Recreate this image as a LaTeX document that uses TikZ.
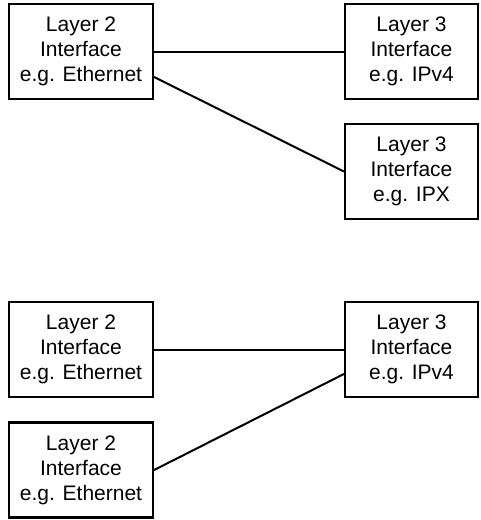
\documentclass[tikz,border=0pt]{standalone}
\usepackage{fontspec}
\setmainfont{Liberation Sans}
\begin{document}
\begin{tikzpicture}[x=1pt,y=1pt,
  ifbox/.style={draw=black, line width=2.2pt, rectangle, align=center, inner sep=0pt,
    font=\fontsize{21}{25}\selectfont},
  l2box/.style={ifbox, minimum width=144pt, minimum height=95pt},
  l3box/.style={ifbox, minimum width=133pt, minimum height=95pt},
  link/.style={line width=2pt}]
\useasboundingbox (0,0) rectangle (481,-520);
\node[l2box] (b1) at (81,-51.5) {Layer 2\\Interface\\e.g. Ethernet};
\node[l3box] (b2) at (411.5,-51.5) {Layer 3\\Interface\\e.g. IPv4};
\node[l3box] (b3) at (411.5,-171.5) {Layer 3\\Interface\\e.g. IPX};
\node[l2box] (b4) at (81,-349.5) {Layer 2\\Interface\\e.g. Ethernet};
\node[l3box] (b5) at (411.5,-349.5) {Layer 3\\Interface\\e.g. IPv4};
\node[l2box] (b6) at (81,-470) {Layer 2\\Interface\\e.g. Ethernet};
\draw[link] (b1.east) -- (b2.west);
\draw[link] ([yshift=-25.5pt]b1.east) -- (b3.west);
\draw[link] (b4.east) -- (b5.west);
\draw[link] (b6.east) -- ([yshift=-24.5pt]b5.west);
\end{tikzpicture}
\end{document}
